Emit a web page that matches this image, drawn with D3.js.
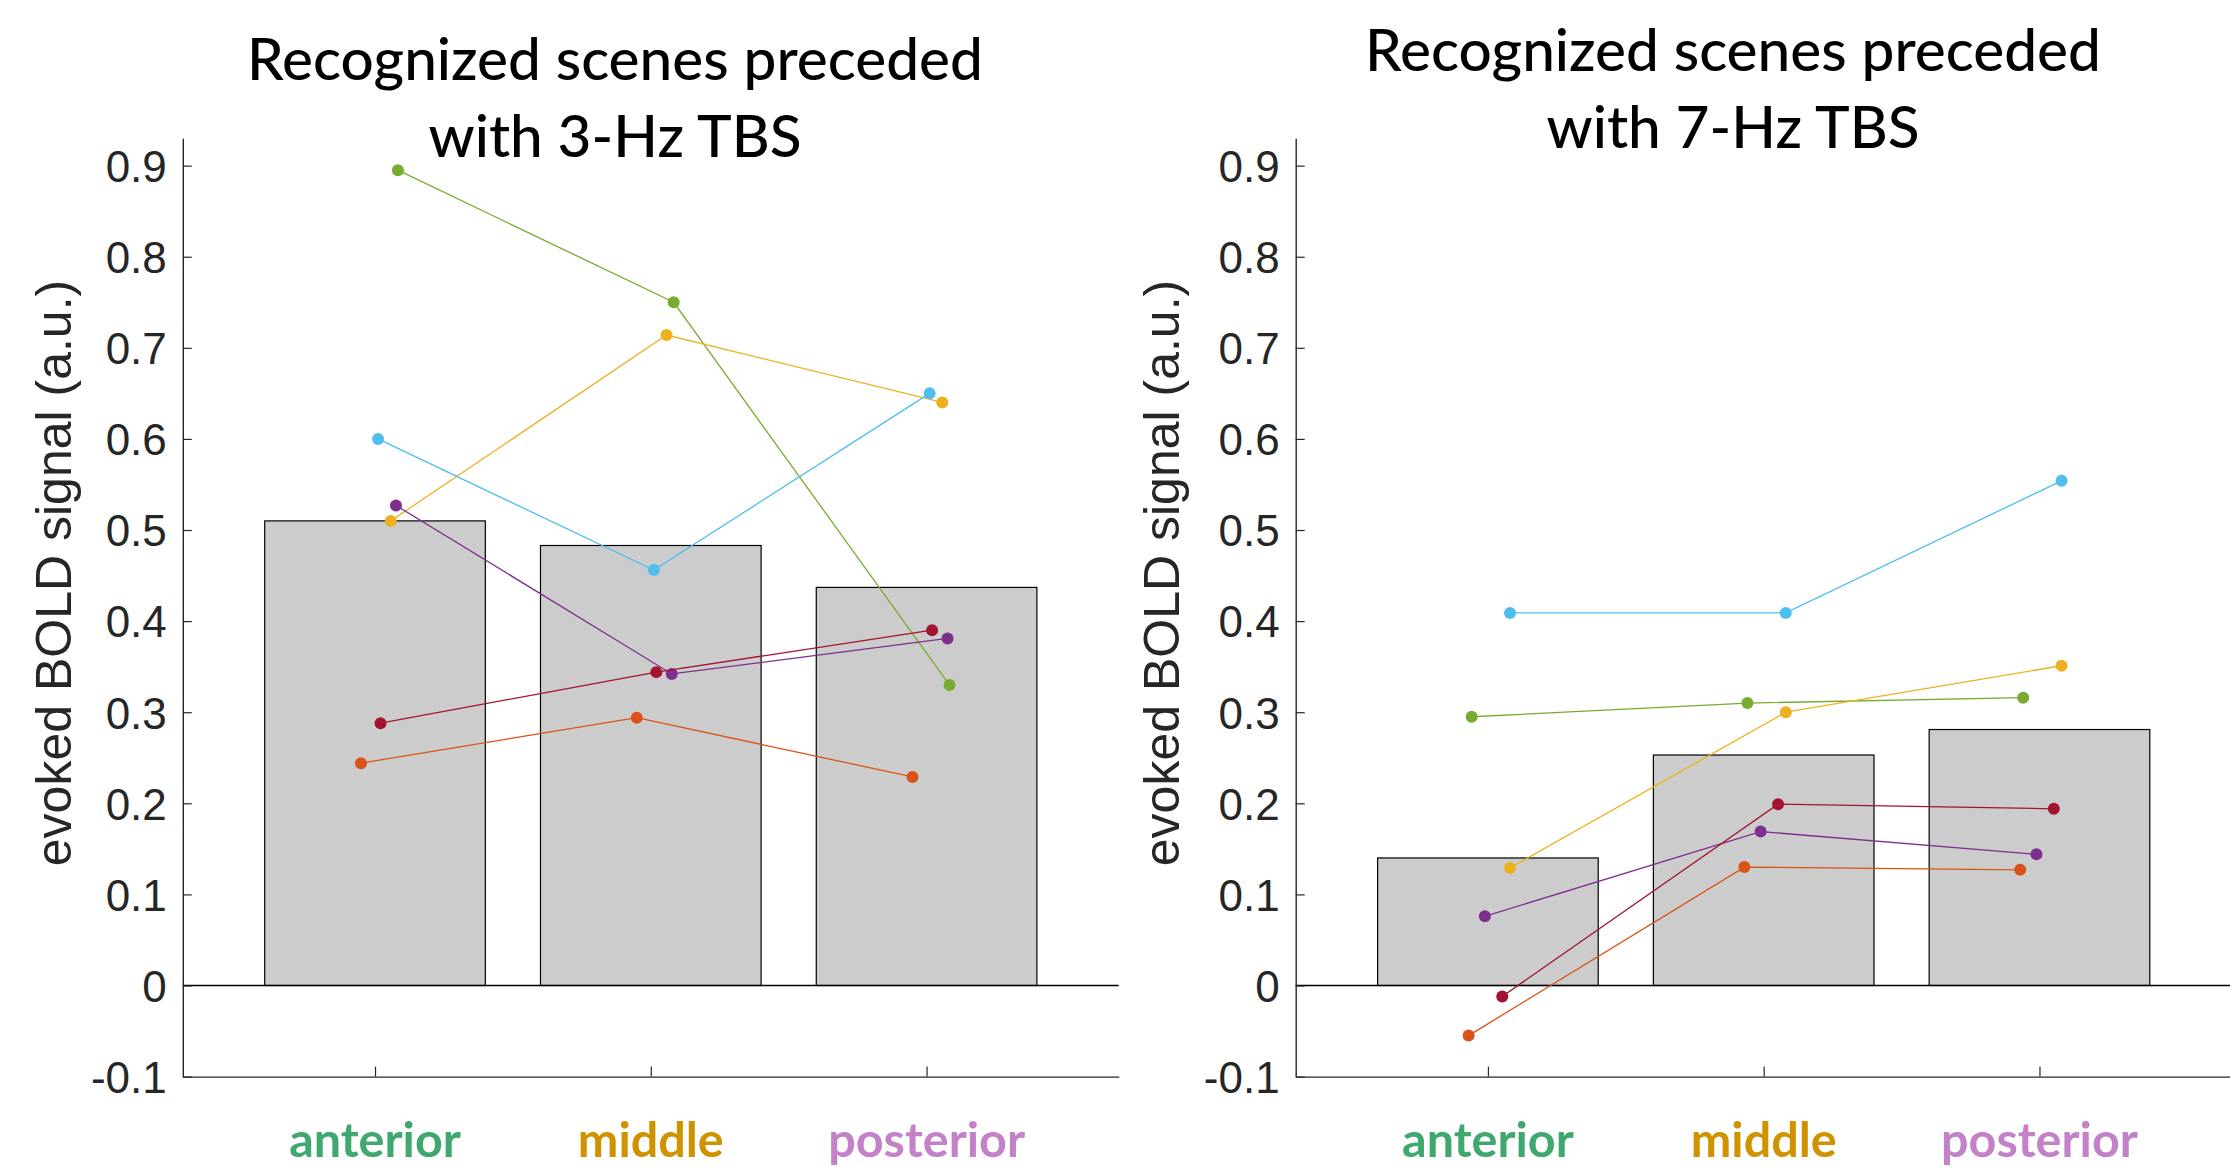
<!DOCTYPE html>
<html>
<head>
<meta charset="utf-8">
<script src="https://cdn.jsdelivr.net/npm/d3@7"></script>
<style>
  html, body { margin: 0; padding: 0; background: #fff; }
  svg { display: block; }
</style>
</head>
<body>
<svg id="chart" width="2230" height="1167"></svg>
<script>
// ---------------- DATA ----------------
const categories = ["anterior", "middle", "posterior"];
const categoryColors = ["#3fa86f", "#d09300", "#c381c8"];
const yTicks = [-0.1, 0, 0.1, 0.2, 0.3, 0.4, 0.5, 0.6, 0.7, 0.8, 0.9];
const yTickLabels = ["-0.1", "0", "0.1", "0.2", "0.3", "0.4", "0.5", "0.6", "0.7", "0.8", "0.9"];
const yLabel = "evoked BOLD signal (a.u.)";

const titles3Hz = ["Recognized scenes preceded", "with 3-Hz TBS"];
const titles7Hz = ["Recognized scenes preceded", "with 7-Hz TBS"];

const subjectColors = ["#77AC30", "#EDB120", "#4DBEEE", "#7E2F8E", "#A2142F", "#D95319"];

// 3-Hz panel
const bars3Hz = [0.510, 0.483, 0.437];
const subjects3Hz = [
  [0.895, 0.750, 0.330],
  [0.510, 0.714, 0.640],
  [0.600, 0.456, 0.650],
  [0.527, 0.342, 0.381],
  [0.288, 0.344, 0.390],
  [0.244, 0.294, 0.229]
];
const jitter3Hz = [0.083, 0.057, 0.011, 0.076, 0.020, -0.051];

// 7-Hz panel
const bars7Hz = [0.140, 0.253, 0.281];
const subjects7Hz = [
  [0.295, 0.310, 0.316],
  [0.129, 0.300, 0.351],
  [0.409, 0.409, 0.554],
  [0.076, 0.169, 0.144],
  [-0.012, 0.199, 0.194],
  [-0.055, 0.130, 0.127]
];
const jitter7Hz = [-0.059, 0.080, 0.080, -0.011, 0.052, -0.070];

// ---------------- DRAW ----------------
const svg = d3.select("#chart");
const axisColor = "#262626";

const y = d3.scaleLinear().domain([-0.1, 0.93]).range([1076.6, 138.3]);

function panel(opts) {
  const g = svg.append("g");
  const x = d3.scaleLinear().domain([0.303, 3.697]).range([opts.left, opts.left + 936]);
  const bw = x(1.8) - x(1.0);

  // bars
  g.selectAll("rect.bar").data(opts.bars).enter().append("rect")
    .attr("class", "bar")
    .attr("x", (d, i) => x(i + 1) - bw / 2)
    .attr("width", bw)
    .attr("y", d => y(Math.max(0, d)))
    .attr("height", d => Math.abs(y(d) - y(0)))
    .attr("fill", "#cccccc")
    .attr("stroke", "#000")
    .attr("stroke-width", 1.2);

  // zero baseline
  g.append("line")
    .attr("x1", x.range()[0]).attr("x2", Math.min(x.range()[1], 2230))
    .attr("y1", y(0)).attr("y2", y(0))
    .attr("stroke", "#000").attr("stroke-width", 1.5);

  // axes
  const yAxis = d3.axisLeft(y).tickValues(yTicks).tickSizeInner(-9).tickSizeOuter(0)
    .tickFormat((d, i) => yTickLabels[i]);
  const ya = g.append("g").attr("transform", `translate(${x.range()[0]},0)`).call(yAxis);
  ya.select(".domain").attr("stroke", axisColor).attr("stroke-width", 1.4);
  ya.selectAll(".tick line").attr("stroke", axisColor).attr("stroke-width", 1.2);
  ya.selectAll(".tick text")
    .attr("x", -16)
    .attr("dy", "0.36em")
    .attr("fill", axisColor)
    .style("font-family", "'Liberation Sans', Arial, sans-serif")
    .style("font-size", "44px");

  const xAxis = d3.axisBottom(x).tickValues([1, 2, 3]).tickSizeInner(-10).tickSizeOuter(0).tickFormat("");
  const xa = g.append("g").attr("transform", `translate(0,${y(-0.1)})`).call(xAxis);
  xa.select(".domain").attr("stroke", axisColor).attr("stroke-width", 1.4);
  xa.selectAll(".tick line").attr("stroke", axisColor).attr("stroke-width", 1.2);

  // subject lines
  const line = d3.line().x(d => x(d[0])).y(d => y(d[1]));
  opts.subjects.forEach((vals, s) => {
    const pts = vals.map((v, i) => [i + 1 + opts.jitter[s], v]);
    g.append("path").attr("d", line(pts))
      .attr("fill", "none").attr("stroke", subjectColors[s]).attr("stroke-width", 1.3);
    g.selectAll(null).data(pts).enter().append("circle")
      .attr("cx", d => x(d[0])).attr("cy", d => y(d[1])).attr("r", 6)
      .attr("fill", subjectColors[s]);
  });

  // category labels
  g.selectAll("text.cat").data(categories).enter().append("text")
    .attr("class", "cat")
    .attr("x", (d, i) => x(i + 1))
    .attr("y", 1157)
    .attr("text-anchor", "middle")
    .attr("fill", (d, i) => categoryColors[i])
    .style("font-family", "Lato, 'Open Sans', sans-serif")
    .style("font-weight", "700")
    .style("font-size", "48.5px")
    .text(d => d);

  // y label
  g.append("text")
    .attr("transform", `translate(${opts.ylabelX},573) rotate(-90)`)
    .attr("text-anchor", "middle")
    .attr("fill", axisColor)
    .style("font-family", "'Liberation Sans', Arial, sans-serif")
    .style("font-size", "50px")
    .text(yLabel);

  // title
  opts.title.forEach((t, i) => {
    g.append("text")
      .attr("x", opts.titleX)
      .attr("y", opts.titleY[i])
      .attr("text-anchor", "middle")
      .attr("fill", "#000")
      .style("font-family", "Lato, 'Open Sans', sans-serif")
      .style("font-weight", "500")
      .style("font-size", "58.5px")
      .text(t);
  });
}

panel({ left: 182.8, bars: bars3Hz, subjects: subjects3Hz, jitter: jitter3Hz,
        title: titles3Hz, titleX: 615, titleY: [80, 157], ylabelX: 71 });
panel({ left: 1295.7, bars: bars7Hz, subjects: subjects7Hz, jitter: jitter7Hz,
        title: titles7Hz, titleX: 1733, titleY: [71, 148], ylabelX: 1179 });
</script>
</body>
</html>
